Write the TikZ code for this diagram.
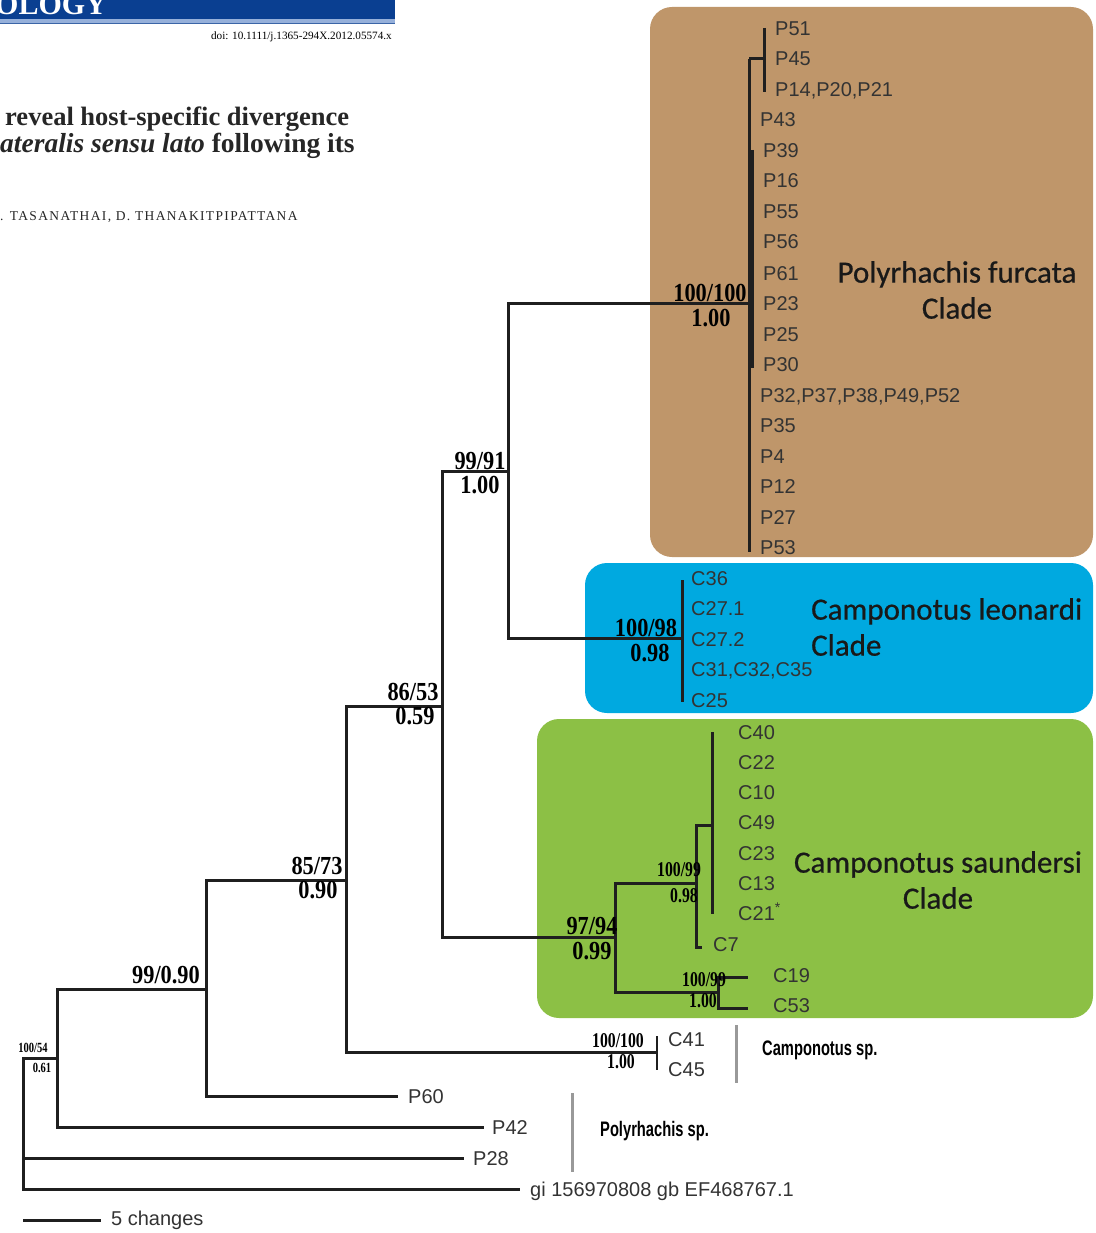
\documentclass[tikz,border=0pt]{standalone}
\usepackage{fontspec}
\setmainfont{Liberation Serif}
\newfontfamily\tipfont{Liberation Sans}
\newfontfamily\cladefont[FakeBold=0.6]{Carlito}
\newfontfamily\supfont[FakeStretch=0.86]{Liberation Serif Bold}
\newfontfamily\narrowsupfont[FakeStretch=0.75]{Liberation Serif Bold}
\newfontfamily\groupfont[FakeStretch=0.7]{Liberation Sans Bold}
\newfontfamily\authfont[LetterSpace=10]{Liberation Serif}
\usetikzlibrary{positioning}

\definecolor{furcata}{RGB}{191,150,106}
\definecolor{leonardi}{RGB}{0,169,224}
\definecolor{saundersi}{RGB}{140,192,69}
\definecolor{jblue}{RGB}{10,63,145}
\definecolor{jpale}{RGB}{150,176,218}

\tikzset{
  branch/.style={draw=black!88, line width=3pt},
  thinbranch/.style={draw=black!88, line width=2.4pt},
  tip/.style={anchor=west, inner sep=0pt, text height=14pt, text depth=0pt, text=black!80, font=\tipfont\fontsize{20}{20}\selectfont},
  bigsup/.style={inner sep=0pt, font=\supfont\fontsize{26}{26}\selectfont},
  smallsup/.style={inner sep=0pt, font=\narrowsupfont\fontsize{21}{21}\selectfont},
  clade/.style={rounded corners=22pt},
  cladename/.style={inner sep=0pt, text=black!90, font=\cladefont\fontsize{31}{36}\selectfont},
  group/.style={anchor=west, inner sep=0pt, font=\groupfont\fontsize{21}{21}\selectfont},
  groupbar/.style={draw=black!40, line width=3pt},
}

\begin{document}
\begin{tikzpicture}[x=1pt,y=-1pt]
	%%%%% START %%%%%
	\useasboundingbox (0,0) rectangle (1095,1233);

	% page header
	\begin{scope}
		\clip (0,0) rectangle (395,25);
		\fill[jblue] (0,0) rectangle (395,19);
		\fill[jpale] (0,19) rectangle (395,23);
		\draw[jblue!80, line width=1pt] (0,23.5) -- (395,23.5);
		\node[anchor=base west, inner sep=0pt, text=white, font=\fontsize{30}{30}\selectfont\bfseries] (journal) at (-5,15) {OLOGY};
	\end{scope}
	\node[anchor=base east, inner sep=0pt, font=\fontsize{11.2}{11.2}\selectfont] (doi) at (392,40) {doi: 10.1111/j.1365-294X.2012.05574.x};
	\node[anchor=base west, inner sep=0pt, text=black!85, font=\fontsize{26.5}{26.5}\selectfont\bfseries] (title1) at (5,126) {reveal host-specific divergence};
	\node[anchor=base west, inner sep=0pt, text=black!85, font=\fontsize{27.5}{27.5}\selectfont\bfseries] (title2) at (0,153) {\textit{ateralis sensu lato} following its};
	\node[anchor=base west, inner sep=0pt, text=black!85, font=\authfont\fontsize{13.5}{13.5}\selectfont] (authors) at (0,221) {. TASANATHAI, D. THANAKITPIPATTANA};

	% clade boxes
	\fill[furcata, clade] (650,7) rectangle (1093,557);
	\fill[leonardi, clade] (585,563) rectangle (1093,713);
	\fill[saundersi, clade] (537,719) rectangle (1093,1018);

	% internal nodes
	\coordinate (root) at (23,1150);
	\coordinate (nP42) at (57,1058);
	\coordinate (nP60) at (206,989);
	\coordinate (nCsp) at (346,880);
	\coordinate (nCS) at (442,706);
	\coordinate (nPC) at (508,471);
	\coordinate (furc) at (749,303);
	\coordinate (leon) at (682,638);
	\coordinate (saun) at (615,937);
	\coordinate (camp) at (657,1052);
	\coordinate (sa1) at (696,883);
	\coordinate (sa2) at (712,825);
	\coordinate (sa3) at (718,992);

	% Polyrhachis furcata clade
	\node[tip] (p51) at (775,29) {P51};
	\node[tip] (p45) at (775,59) {P45};
	\node[tip] (p14) at (775,90) {P14,P20,P21};
	\node[tip] (p43) at (760,120) {P43};
	\node[tip] (p39) at (763,151) {P39};
	\node[tip] (p16) at (763,181) {P16};
	\node[tip] (p55) at (763,212) {P55};
	\node[tip] (p56) at (763,242) {P56};
	\node[tip] (p61) at (763,273) {P61};
	\node[tip] (p23) at (763,303) {P23};
	\node[tip] (p25) at (763,334) {P25};
	\node[tip] (p30) at (763,364) {P30};
	\node[tip] (p32) at (760,395) {P32,P37,P38,P49,P52};
	\node[tip] (p35) at (760,425) {P35};
	\node[tip] (p4) at (760,456) {P4};
	\node[tip] (p12) at (760,486) {P12};
	\node[tip] (p27) at (760,517) {P27};
	\node[tip] (p53) at (760,547) {P53};

	\coordinate (furcTop) at (749,59);
	\coordinate (furcBot) at (749,552);
	\coordinate (furcSub) at (764,59);
	\draw[branch] (furcTop) -- (furcBot);
	\draw[line width=6pt, black!88] (751,150) -- (751,368);
	\draw[branch] (furcTop) -- (furcSub);
	\draw[branch] (764,28) -- (764,92);

	% Camponotus leonardi clade
	\node[tip] (c36) at (691,578) {C36};
	\node[tip] (c271) at (691,608) {C27.1};
	\node[tip] (c272) at (691,639) {C27.2};
	\node[tip] (c31) at (691,669) {C31,C32,C35};
	\node[tip] (c25) at (691,700) {C25};
	\draw[branch] (682,580) -- (682,702);

	% Camponotus saundersi clade
	\node[tip] (c40) at (738,732) {C40};
	\node[tip] (c22) at (738,762) {C22};
	\node[tip] (c10) at (738,792) {C10};
	\node[tip] (c49) at (738,822) {C49};
	\node[tip] (c23) at (738,853) {C23};
	\node[tip] (c13) at (738,883) {C13};
	\node[tip] (c21) at (738,913) {C21\textsuperscript{*}};
	\node[tip] (c7) at (713,944) {C7};
	\node[tip] (c19) at (773,975) {C19};
	\node[tip] (c53) at (773,1005) {C53};
	\draw[branch] (712,732) -- (712,914);
	\draw[branch] (sa1) |- (sa2);
	\draw[branch] (sa1) |- (702,947);
	\draw[branch] (saun) |- (sa1);
	\draw[branch] (saun) |- (sa3);
	\draw[branch] (sa3) |- (748,977);
	\draw[branch] (sa3) |- (748,1008);

	% Camponotus sp.
	\node[tip] (c41) at (668,1039) {C41};
	\node[tip] (c45) at (668,1069) {C45};
	\draw[thinbranch] (657,1036) -- (657,1070);

	% outgroup tips
	\node[tip] (p60) at (408,1096) {P60};
	\node[tip] (p42) at (492,1127) {P42};
	\node[tip] (p28) at (473,1158) {P28};
	\node[tip] (gi) at (530,1189) {gi 156970808 gb EF468767.1};

	% backbone
	\draw[branch] (nPC) |- (furc);
	\draw[branch] (nPC) |- (leon);
	\draw[branch] (nCS) |- (nPC);
	\draw[branch] (nCS) |- (saun);
	\draw[branch] (nCsp) |- (nCS);
	\draw[branch] (nCsp) |- (camp);
	\draw[branch] (nP60) |- (nCsp);
	\draw[branch] (nP60) |- ([xshift=-10pt]p60.west);
	\draw[branch] (nP42) |- (nP60);
	\draw[branch] (nP42) |- ([xshift=-8pt]p42.west);
	\draw[branch] (root) |- (nP42);
	\draw[branch] (root) |- ([xshift=-9pt]p28.west);
	\draw[branch] (root) |- ([xshift=-10pt]gi.west);

	% support values
	\node[bigsup] (s1) at (710,293) {100/100};
	\node[bigsup] (b1) at (711,318) {1.00};
	\node[bigsup] (s2) at (480,461) {99/91};
	\node[bigsup] (b2) at (480,485) {1.00};
	\node[bigsup] (s3) at (413,692) {86/53};
	\node[bigsup] (b3) at (415,716) {0.59};
	\node[bigsup] (s4) at (317,866) {85/73};
	\node[bigsup] (b4) at (318,890) {0.90};
	\node[bigsup] (s5) at (166,975) {99/0.90};
	\node[bigsup] (s6) at (646,628) {100/98};
	\node[bigsup] (b6) at (650,653) {0.98};
	\node[bigsup] (s7) at (592,926) {97/94};
	\node[bigsup] (b7) at (592,951) {0.99};
	\node[smallsup] (s8) at (679,870) {100/99};
	\node[smallsup] (b8) at (684,896) {0.98};
	\node[smallsup] (s9) at (704,980) {100/99};
	\node[smallsup] (b9) at (703,1001) {1.00};
	\node[smallsup] (s10) at (618,1041) {100/100};
	\node[smallsup] (b10) at (621,1062) {1.00};
	\node[inner sep=0pt, font=\narrowsupfont\fontsize{14}{14}\selectfont] (s11) at (33,1048) {100/54};
	\node[inner sep=0pt, font=\narrowsupfont\fontsize{14}{14}\selectfont] (b11) at (42,1068) {0.61};

	% clade names
	\node[cladename, align=center] (pfname) at (957,290) {Polyrhachis furcata\\Clade};
	\node[cladename, align=left, anchor=west] (clname) at (811,627) {Camponotus leonardi\\Clade};
	\node[cladename, align=center] (csname) at (938,880) {Camponotus saundersi\\Clade};

	% host groups outside the clades
	\draw[groupbar] (736,1025) -- (736,1083);
	\node[group] (cspname) at (762,1050) {Camponotus sp.};
	\draw[groupbar] (572,1093) -- (572,1172);
	\node[group] (pspname) at (600,1131) {Polyrhachis sp.};

	% scale bar
	\coordinate (barL) at (23,1220);
	\coordinate (barR) at (101,1220);
	\draw[branch] (barL) -- (barR);
	\node[tip] (barlab) at (111,1218) {5 changes};
	%%%%% END %%%%%
\end{tikzpicture}
\end{document}
